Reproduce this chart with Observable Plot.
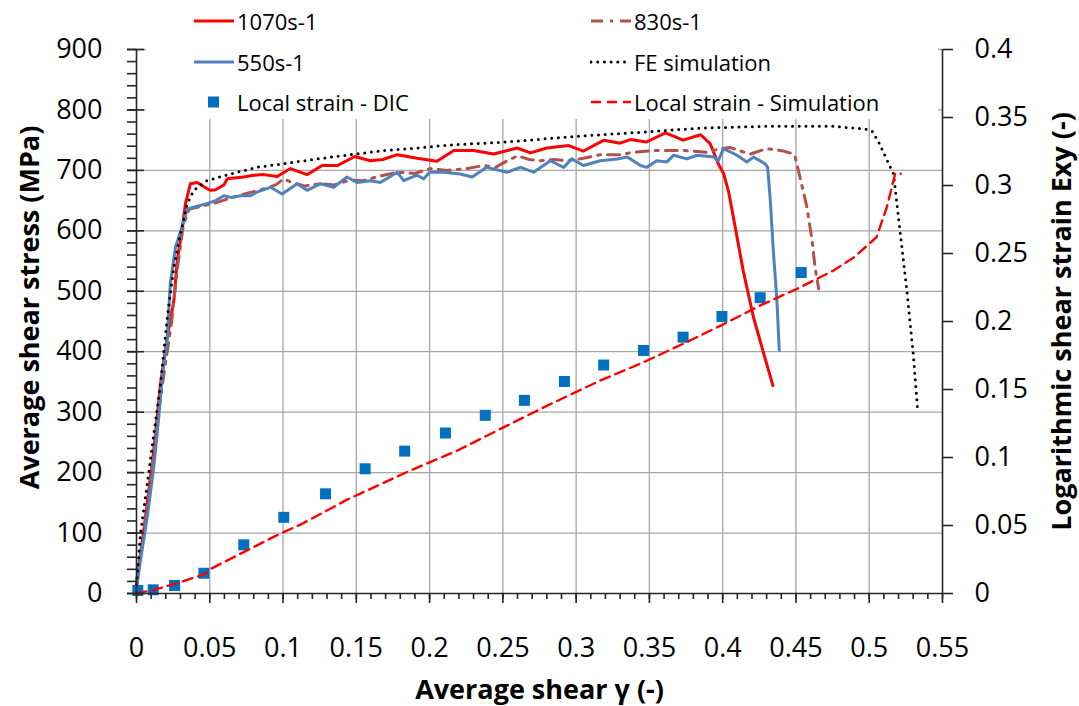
<!DOCTYPE html>
<html><head><meta charset="utf-8">
<script src="https://cdn.jsdelivr.net/npm/d3@7"></script>
<script src="https://cdn.jsdelivr.net/npm/@observablehq/plot@0.6"></script>
<style>
body{margin:0;background:#fff;}
#wrap{position:relative;width:1079px;height:706px;font-family:"Open Sans",sans-serif;}
#legend{position:absolute;left:146px;top:0;width:792px;height:119px;background:#fff;}
.item{position:absolute;display:flex;align-items:center;font-size:22px;color:#000;white-space:nowrap;height:30px;}
.item svg{margin-right:3px;}
</style></head>
<body><div id="wrap"><div id="chart"></div><div id="legend"></div></div>
<script>
// ---- axes ----
const xDomain = [0, 0.55];
const yDomain = [0, 900];
const strainDomain = [0, 0.4];
const xTicks = [0, 0.05, 0.1, 0.15, 0.2, 0.25, 0.3, 0.35, 0.4, 0.45, 0.5, 0.55];
const xTickLabels = ["0","0.05","0.1","0.15","0.2","0.25","0.3","0.35","0.4","0.45","0.5","0.55"];
const yTicks = [0, 100, 200, 300, 400, 500, 600, 700, 800, 900];
const strainTicks = [0, 0.05, 0.1, 0.15, 0.2, 0.25, 0.3, 0.35, 0.4];
const strainTickLabels = ["0","0.05","0.1","0.15","0.2","0.25","0.3","0.35","0.4"];
const xTitle = "Average shear γ (-)";
const yTitle = "Average shear stress (MPa)";
const y2Title = "Logarithmic shear strain Exy (-)";

// ---- series: [average shear γ, average shear stress MPa] ----
const s1070 = [[0,18],[0.003,70],[0.0061,126],[0.0118,237],[0.0164,347],[0.021,424],[0.0255,485],[0.0278,551],[0.031,600],[0.0334,645],[0.0368,678],[0.0414,680],[0.048,670],[0.0505,667],[0.054,668],[0.0596,676],[0.062,686],[0.073,689],[0.080,692],[0.0868,693],[0.096,690],[0.105,703],[0.1164,693],[0.1267,708],[0.137,708],[0.149,723],[0.1596,716],[0.168,718],[0.178,726],[0.1915,720],[0.205,715],[0.2165,733],[0.230,733],[0.2437,727],[0.2597,737],[0.2688,729],[0.280,737],[0.295,741],[0.305,732],[0.319,750],[0.330,745],[0.337,751],[0.348,747],[0.361,762],[0.373,750],[0.385,759],[0.3915,744],[0.397,711],[0.4006,695],[0.404,665],[0.4075,620],[0.414,534],[0.421,457],[0.428,397],[0.4343,344]];
const s830 = [[0,15],[0.005,100],[0.01,200],[0.015,300],[0.02,385],[0.024,450],[0.028,540],[0.032,610],[0.036,636],[0.045,641],[0.055,647],[0.065,655],[0.075,662],[0.085,668],[0.095,676],[0.1005,686],[0.106,680],[0.115,674],[0.125,678],[0.135,676],[0.146,684],[0.155,683],[0.165,690],[0.178,697],[0.19,695],[0.2005,703],[0.212,700],[0.225,703],[0.237,708],[0.245,705],[0.253,716],[0.26,724],[0.268,718],[0.2756,716],[0.285,718],[0.2938,716],[0.305,720],[0.3165,726],[0.33,726],[0.339,730],[0.355,733],[0.373,733],[0.389,730],[0.397,735],[0.405,738],[0.412,732],[0.419,727],[0.430,736],[0.4415,732],[0.4484,727],[0.4495,722],[0.453,686],[0.4575,639],[0.461,584],[0.463,540],[0.4655,504]];
const s550 = [[0,8],[0.0027,55],[0.0073,126],[0.0118,209],[0.0152,292],[0.0175,358],[0.021,424],[0.023,512],[0.0266,573],[0.031,606],[0.0346,636],[0.039,639],[0.048,645],[0.054,650],[0.0596,658],[0.065,655],[0.071,658],[0.0778,658],[0.082,664],[0.0914,672],[0.0994,661],[0.1096,678],[0.1164,667],[0.1255,678],[0.1346,672],[0.1437,689],[0.1505,680],[0.1596,683],[0.1664,680],[0.178,697],[0.1823,683],[0.1914,692],[0.196,686],[0.2,697],[0.2096,697],[0.221,694],[0.229,689],[0.239,705],[0.253,697],[0.262,705],[0.271,697],[0.2824,716],[0.2915,705],[0.297,719],[0.305,708],[0.3165,716],[0.328,719],[0.3347,722],[0.337,719],[0.344,708],[0.348,705],[0.355,716],[0.362,714],[0.3665,725],[0.3756,719],[0.3825,725],[0.394,722],[0.397,716],[0.4006,736],[0.4098,725],[0.4165,714],[0.421,722],[0.429,711],[0.4307,705],[0.4325,650],[0.4347,562],[0.437,485],[0.4386,402]];
const sFE = [[0,15],[0.0027,99],[0.0073,181],[0.0118,264],[0.0164,347],[0.021,457],[0.0255,540],[0.030,595],[0.0346,645],[0.039,667],[0.048,683],[0.064,694],[0.082,705],[0.1005,711],[0.123,719],[0.146,726],[0.169,733],[0.1915,737],[0.214,742],[0.253,747],[0.298,756],[0.344,763],[0.3847,770],[0.430,773],[0.4757,773],[0.4984,768],[0.502,765],[0.5064,747],[0.5166,694],[0.521,600],[0.5257,501],[0.530,397],[0.533,305]];
// ---- strain series: [average shear γ, logarithmic shear strain Exy] ----
const strainDIC = [[0.0009,0.0022],[0.0114,0.0027],[0.026,0.0059],[0.046,0.0149],[0.0732,0.0358],[0.1005,0.056],[0.129,0.0733],[0.156,0.0917],[0.183,0.1047],[0.2108,0.118],[0.238,0.131],[0.2647,0.142],[0.292,0.1559],[0.3188,0.168],[0.346,0.1787],[0.373,0.1885],[0.3995,0.2037],[0.4256,0.2175],[0.4536,0.236]];
const strainSim = [[0,0],[0.0118,0.0027],[0.0277,0.0076],[0.046,0.014],[0.0505,0.018],[0.0687,0.028],[0.098,0.044],[0.112,0.0507],[0.1437,0.069],[0.187,0.0905],[0.2187,0.105],[0.2483,0.121],[0.280,0.138],[0.3165,0.1566],[0.346,0.170],[0.373,0.1836],[0.4006,0.198],[0.4256,0.2118],[0.4507,0.224],[0.4757,0.2375],[0.4894,0.247],[0.505,0.262],[0.512,0.284],[0.5177,0.3086],[0.5215,0.3086]];

const legendLabels = ["1070s-1","830s-1","550s-1","FE simulation","Local strain - DIC","Local strain - Simulation"];

// ---- styles ----
const K = yDomain[1] / strainDomain[1]; // maps secondary axis onto the primary one
const st = {
  "1070s-1": {stroke:"#ff0000", strokeWidth:3},
  "830s-1": {stroke:"#b3504b", strokeWidth:3, strokeDasharray:"12,7,3,7"},
  "550s-1": {stroke:"#4f81bd", strokeWidth:3},
  "FE simulation": {stroke:"#000", strokeWidth:3, strokeDasharray:"0,6.7", strokeLinecap:"round"},
  "Local strain - Simulation": {stroke:"#ff0000", strokeWidth:2.4, strokeDasharray:"10,6"}
};
const rows = (arr) => arr.map(([g, v]) => ({g, v}));
const rowsStrain = (arr) => arr.map(([g, s]) => ({g, v: s * K}));
const gridStyle = {stroke:"#a6a6a6", strokeOpacity:1, strokeWidth:1.3};
const axisStroke = {stroke:"#262626", strokeWidth:1.6};
const fmtX = d => xTickLabels[xTicks.findIndex(t => Math.abs(t - d) < 1e-9)];
const fmtS = d => strainTickLabels[strainTicks.findIndex(t => Math.abs(t * K - d) < 1e-6)];
const titleStyle = {text:d => d, fontWeight:"bold", fontSize:27, textAnchor:"middle", lineAnchor:"middle"};

const chart = Plot.plot({
  width:1079, height:706,
  marginLeft:136, marginRight:137, marginTop:49, marginBottom:113,
  x:{domain:xDomain, axis:null},
  y:{domain:yDomain, axis:null},
  style:{fontFamily:'"Open Sans", sans-serif', fontSize:"27px", color:"#000", background:"#fff", overflow:"visible"},
  marks:[
    Plot.gridY(yTicks.filter(v => v > yDomain[0]), gridStyle),
    Plot.gridX(xTicks.filter(v => v > xDomain[0] && v < xDomain[1]), gridStyle),
    Plot.line(rows(s1070), {x:"g", y:"v", ...st["1070s-1"]}),
    Plot.line(rows(s830), {x:"g", y:"v", ...st["830s-1"]}),
    Plot.line(rows(s550), {x:"g", y:"v", ...st["550s-1"]}),
    Plot.line(rows(sFE), {x:"g", y:"v", ...st["FE simulation"]}),
    Plot.dot(rowsStrain(strainDIC), {x:"g", y:"v", symbol:"square", r:6.2, fill:"#0070c0", stroke:"none"}),
    Plot.line(rowsStrain(strainSim), {x:"g", y:"v", ...st["Local strain - Simulation"]}),
    Plot.ruleX([xDomain[0]], axisStroke),
    Plot.ruleX([xDomain[1]], axisStroke),
    Plot.ruleY([yDomain[0]], axisStroke),
    Plot.axisY(d3.range(yDomain[0], yDomain[1] + 1, 20), {anchor:"left", label:null, tickSize:9, tickFormat:() => "", ...axisStroke}),
    Plot.axisY(yTicks, {anchor:"left", label:null, tickSize:17, dx:8, tickPadding:25, fontSize:27, ...axisStroke}),
    Plot.axisX(d3.range(0, 56, 1).map(i => i / 100), {anchor:"bottom", label:null, tickSize:6, tickFormat:() => "", ...axisStroke}),
    Plot.axisX(xTicks, {anchor:"bottom", label:null, tickSize:10, tickPadding:34, fontSize:27, tickFormat:fmtX, ...axisStroke}),
    Plot.axisY(strainTicks.map(s => s * K), {anchor:"right", label:null, tickSize:10, tickPadding:22, fontSize:27, tickFormat:fmtS, ...axisStroke}),
    Plot.text([yTitle], {frameAnchor:"left", dx:-106, dy:-14, rotate:-90, ...titleStyle}),
    Plot.text([y2Title], {frameAnchor:"right", dx:120, dy:0, rotate:-90, ...titleStyle}),
    Plot.text([xTitle], {frameAnchor:"bottom", dy:97, ...titleStyle})
  ]
});
document.getElementById("chart").appendChild(chart);

// ---- legend (HTML, over the top strip of the plot area) ----
const legendPos = [
  {left:47, top:6}, {left:444, top:6},
  {left:47, top:47}, {left:444, top:47},
  {left:47, top:87}, {left:444, top:87}
];
const lg = document.getElementById("legend");
legendLabels.forEach((name, i) => {
  const div = document.createElement("div");
  div.className = "item";
  div.style.left = legendPos[i].left + "px";
  div.style.top = legendPos[i].top + "px";
  let sw;
  if (name === "Local strain - DIC") {
    sw = `<svg width="41" height="14"><rect x="15" y="1.5" width="11" height="11" fill="#0070c0"/></svg>`;
  } else {
    const s = st[name];
    sw = `<svg width="41" height="14"><line x1="1" x2="41" y1="7" y2="7" stroke="${s.stroke}" stroke-width="${s.strokeWidth}" ${s.strokeDasharray ? `stroke-dasharray="${s.strokeDasharray}"` : ""} ${s.strokeLinecap ? `stroke-linecap="${s.strokeLinecap}"` : ""}/></svg>`;
  }
  div.innerHTML = sw + `<span>${name}</span>`;
  lg.appendChild(div);
});
</script>
</body></html>
